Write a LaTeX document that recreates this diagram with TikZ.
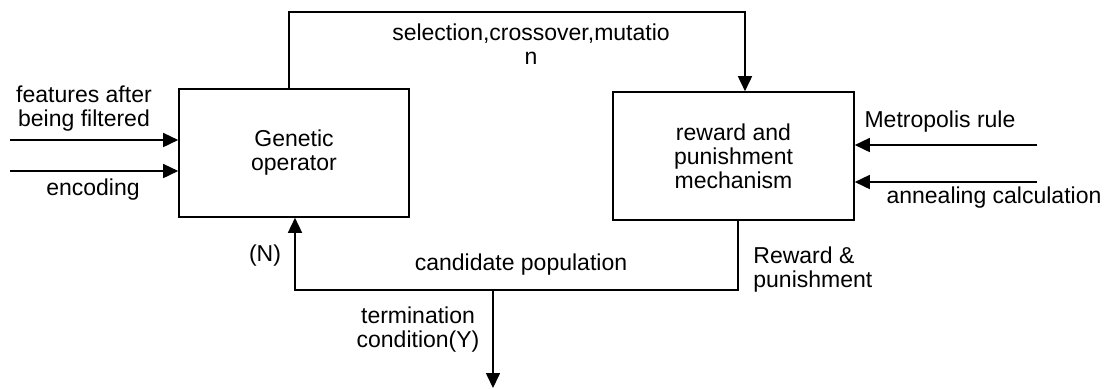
\documentclass[tikz,border=0pt]{standalone}
\usepackage{fontspec}
\setmainfont{Liberation Sans}
\usepackage{tikz}
\usetikzlibrary{positioning,arrows.meta,calc}
\tikzset{
    block/.style = {
        draw,
        shape=rectangle,
        minimum height=64pt,
        line width=0.8pt,
        align=center
    },
    lbl/.style = {
        shape=rectangle,
        inner sep=0pt,
        align=center
    },
    flow/.style = {
        draw,
        line width=0.8pt
    },
    >={Triangle[length=7.5pt,width=7pt]},
}

\begin{document}
\begin{tikzpicture}[x=0.5pt,y=-0.5pt,font=\fontsize{11.5pt}{12pt}\selectfont]
                \useasboundingbox (0,0) rectangle (1110,388);
                \node[block, minimum width=115pt] (gen) at (294,153) {Genetic\\operator};
                \node[block, minimum width=120.5pt] (rew) at (733.5,156) {reward and\\punishment\\mechanism};

                \coordinate (topL) at (289,12);
                \coordinate (topR) at (745,12);
                \coordinate (botL) at (295,290);
                \coordinate (botR) at (738,290);
                \coordinate (term) at (493,290);
                \coordinate (termend) at (493,388);
                \coordinate (feat) at (10,140);
                \coordinate (enc) at (10,171);
                \coordinate (metro) at (1037,145);
                \coordinate (anneal) at (1037,182);

                \node[lbl] (sel) at (531,44) {selection,crossover,mutatio\\n};
                \node[lbl] (featlbl) at (84,109) {features after\\being filtered};
                \node[lbl] (enclbl) at (93,190) {encoding};
                \node[lbl] (metrolbl) at (940,122) {Metropolis rule};
                \node[lbl] (anneallbl) at (994,198) {annealing calculation};
                \node[lbl] (nlbl) at (265,256) {(N)};
                \node[lbl] (cand) at (521,265) {candidate population};
                \node[lbl, align=left, anchor=west] (rp) at (753,270) {Reward \&\\punishment};
                \node[lbl] (termlbl) at (418,330) {termination\\condition(Y)};

                \path[flow, ->] (gen.north -| topL) -- (topL) -- (topR) -- (rew.north -| topR);
                \path[flow, ->] (feat) -- (gen.west |- feat);
                \path[flow, ->] (enc) -- (gen.west |- enc);
                \path[flow, ->] (metro) -- (rew.east |- metro);
                \path[flow, ->] (anneal) -- (rew.east |- anneal);
                \path[flow, ->] (rew.south -| botR) -- (botR) -- (botL) -- (gen.south -| botL);
                \path[flow, ->] (term) -- (termend);
            \end{tikzpicture}
\end{document}
